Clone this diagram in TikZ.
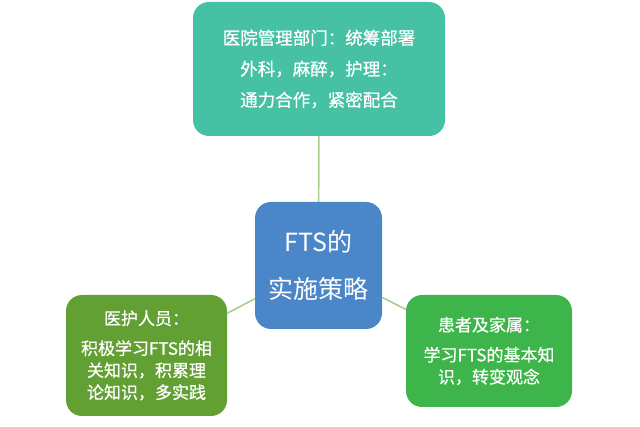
\documentclass[tikz,border=0pt]{standalone}
\usepackage{fontspec}
\setmainfont{Noto Sans CJK SC}
\newfontfamily\boxfont{Noto Sans CJK SC}[FakeBold=0.6]
\usetikzlibrary{positioning}

\definecolor{topteal}{HTML}{47C1A3}
\definecolor{midblue}{HTML}{4A86C8}
\definecolor{leftgreen}{HTML}{62A033}
\definecolor{rightgreen}{HTML}{3DB54A}
\definecolor{linkgreen}{HTML}{A9D08E}

\begin{document}
\begin{tikzpicture}[x=1pt,y=-1pt,
  box/.style={rectangle,rounded corners=16pt,draw=none,text=white,align=center,inner sep=0pt},
  link/.style={draw=linkgreen,line width=1.6pt}]
  \useasboundingbox (0,0) rectangle (640,427);

  % Center
  \node[box,fill=midblue,minimum width=127pt,minimum height=127pt,
        font=\fontsize{25}{47}\selectfont] (ctr) at (318.5,265.5) {FTS的\\实施策略};

  % Top
  \node[box,fill=topteal,minimum width=252pt,minimum height=134pt,
        font=\boxfont\fontsize{17.5}{31}\selectfont] (top) at (319,69)
        {医院管理部门：统筹部署\\外科，麻醉，护理：\\通力合作，紧密配合};

  % Left
  \node[box,fill=leftgreen,minimum width=161pt,minimum height=121pt,
        font=\boxfont\fontsize{17}{22}\selectfont] (lft) at (146.5,355.5)
        {医护人员：\\[8pt]积极学习FTS的相\\关知识，积累理\\论知识，多实践};

  % Right
  \node[box,fill=rightgreen,minimum width=166pt,minimum height=112pt,
        font=\boxfont\fontsize{17}{22}\selectfont] (rgt) at (489,351)
        {患者及家属：\\[8pt]学习FTS的基本知\\识，转变观念};

  % Connections
  \draw[link] (ctr) -- (top);
  \draw[link] (ctr) -- (lft);
  \draw[link] (ctr) -- (rgt);
\end{tikzpicture}
\end{document}
